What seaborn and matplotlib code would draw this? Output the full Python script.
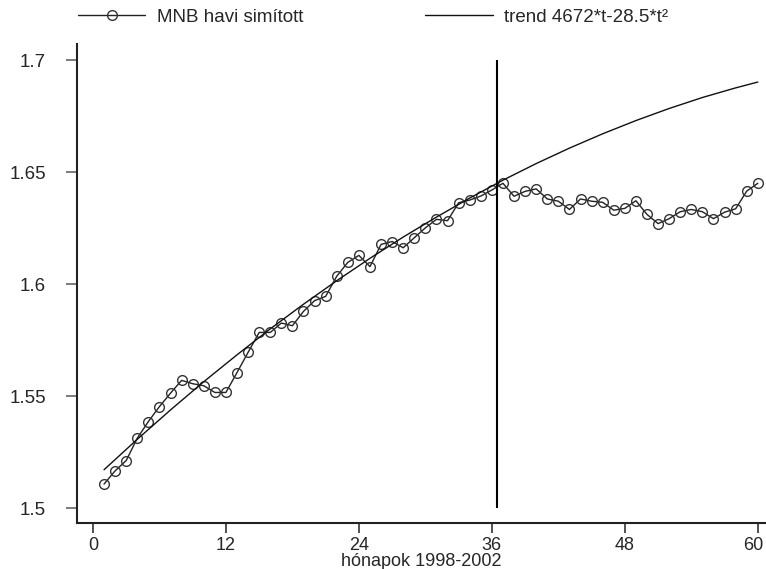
import numpy as np
import pandas as pd
import seaborn as sns
import matplotlib.pyplot as plt
import matplotlib.transforms as mtransforms

# monthly smoothed MNB series, 1998-2002 (months 1..60)
months = list(range(1, 61))
mnb = [1.5107, 1.5166, 1.5212, 1.5312, 1.5386, 1.5453, 1.5513, 1.5570, 1.5555, 1.5546,
       1.5516, 1.5516, 1.5605, 1.5695, 1.5784, 1.5784, 1.5826, 1.5814, 1.5878, 1.5926,
       1.5945, 1.6035, 1.6097, 1.6128, 1.6078, 1.6177, 1.6190, 1.6162, 1.6207, 1.6251,
       1.6289, 1.6283, 1.6363, 1.6375, 1.6393, 1.6420, 1.6450, 1.6392, 1.6414, 1.6425,
       1.6380, 1.6370, 1.6333, 1.6380, 1.6370, 1.6365, 1.6330, 1.6338, 1.6372, 1.6311,
       1.6270, 1.6292, 1.6323, 1.6333, 1.6323, 1.6292, 1.6321, 1.6336, 1.6415, 1.6450]

# quadratic trend read at every third month
trend_t = [1, 4, 7, 10, 13, 16, 19, 22, 25, 28, 31, 34, 37, 40, 43, 46, 49, 52, 55, 58, 60]
trend_v = [1.5171, 1.5307, 1.5438, 1.5564, 1.5684, 1.5800, 1.5910, 1.6015, 1.6115, 1.6210,
           1.6299, 1.6384, 1.6464, 1.6538, 1.6607, 1.6671, 1.6730, 1.6784, 1.6833, 1.6876,
           1.6902]

xticks = [0, 12, 24, 36, 48, 60]
yticks = [1.5, 1.55, 1.6, 1.65, 1.7]
ytick_labels = ["1.5", "1.55", "1.6", "1.65", "1.7"]
break_month = 36.5

sns.set_style("ticks")
plt.rcParams['font.family'] = ['Liberation Sans Narrow', 'Liberation Sans', 'DejaVu Sans']

df = pd.DataFrame({"t": months, "mnb": mnb})
tr = pd.DataFrame({"t": trend_t, "trend": trend_v})

fig = plt.figure(figsize=(7.66, 5.69), dpi=100)
ax = fig.add_axes([0.1001, 0.0808, 0.8999, 0.8419])

sns.lineplot(data=df, x="t", y="mnb", ax=ax, color="#222222", linewidth=1.0,
             marker="o", markersize=7, markerfacecolor="none",
             markeredgecolor="#333333", markeredgewidth=1.0,
             label="MNB havi simított", legend=False)
sns.lineplot(data=tr, x="t", y="trend", ax=ax, color="#111111", linewidth=1.0,
             label="trend 4672*t-28.5*t²", legend=False)
ax.vlines(break_month, yticks[0], yticks[-1], color="black", linewidth=1.5)

ax.set_xlim(-1.47, 60.74)
ax.set_ylim(1.4933, 1.7072)
ax.set_xticks(xticks)
ax.set_yticks(yticks)
ax.set_yticklabels(ytick_labels)
ax.tick_params(axis="x", length=7, width=1.2, pad=3, labelsize=13, color="#333333")
ax.tick_params(axis="y", length=8, width=1.2, pad=14, labelsize=13.5, color="#666666")
ax.set_xlabel("hónapok 1998-2002", fontsize=13, labelpad=-1)
ax.set_ylabel("")
for s in ["left", "bottom"]:
    ax.spines[s].set_linewidth(1.5)
    ax.spines[s].set_color("#222222")
sns.despine(ax=ax)

# keep the last tick label inside the figure edge
last = ax.get_xticklabels()[-1]
last.set_transform(last.get_transform() + mtransforms.ScaledTranslation(-5 / 100, 0, fig.dpi_scale_trans))

lines = ax.get_lines()
common = dict(frameon=False, fontsize=13.5, handlelength=3.6, handletextpad=0.6,
              borderpad=0, borderaxespad=0, loc="center left")
fig.legend([lines[0]], ["MNB havi simított"], bbox_to_anchor=(0.1018, 0.97), **common)
fig.legend([lines[1]], ["trend 4672*t-28.5*t²"], bbox_to_anchor=(0.555, 0.97), **common)

fig.savefig("out.png", dpi=100)
